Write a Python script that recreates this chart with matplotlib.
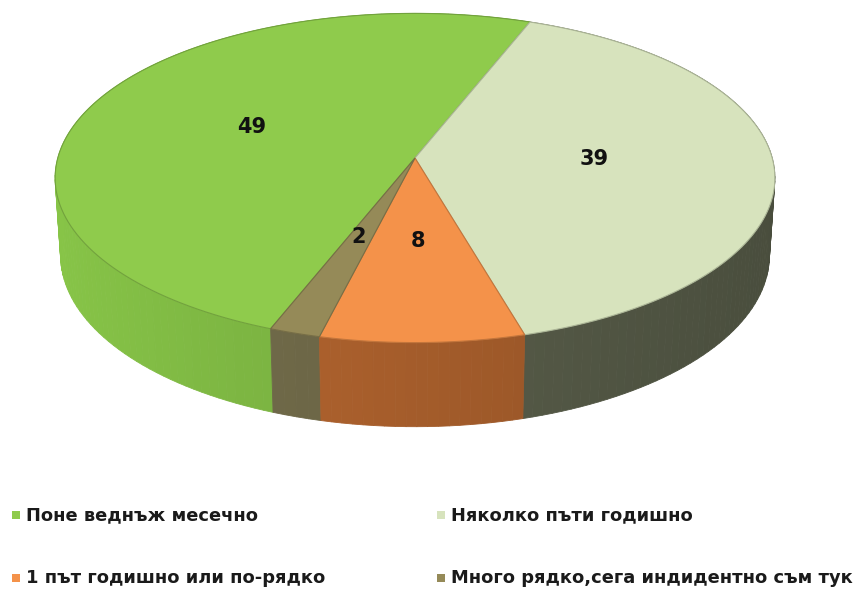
import numpy as np
import matplotlib.pyplot as plt
from matplotlib.patches import Polygon, Rectangle
import matplotlib.colors as mcolors

labels = ['Поне веднъж месечно', 'Няколко пъти годишно',
          '1 път годишно или по-рядко', 'Много рядко,сега индидентно съм тук']
values = [49, 39, 8, 2]
top_colors = ['#8fcb4c', '#d7e3bd', '#f4924a', '#958a58']
side_colors = ['#79b040', '#595e4a', '#a95f2c', '#6c6646']

# 3d pie view (perspective)
start = 201.0      # degrees, clockwise from the back
elev = np.radians(27)
dist = 7.34
focal = 2622
thick = 0.245
cx, cy = 415, 158


def project(x, y, z):
    d = dist + y * np.cos(elev) - z * np.sin(elev)
    sx = x * focal / d
    sy = (y * np.sin(elev) + z * np.cos(elev)) * focal / d
    return cx + sx, cy - sy


def rim_point(phi, z):
    return project(np.sin(phi), np.cos(phi), z)


fig = plt.figure(figsize=(8.59, 5.93), dpi=100)
ax = fig.add_axes([0, 0, 1, 1])
ax.set_xlim(0, 859)
ax.set_ylim(593, 0)
ax.axis('off')

total = sum(values)
bounds = np.radians(start + 360 * np.concatenate([[0], np.cumsum(values)]) / total)

# side wall, drawn as small shaded quads from back to front
quads = []
for i in range(len(values)):
    a0, a1 = bounds[i], bounds[i + 1]
    n = max(int(np.degrees(a1 - a0) / 1.5), 2)
    ph = np.linspace(a0, a1, n + 1)
    for p0, p1 in zip(ph[:-1], ph[1:]):
        pm = (p0 + p1) / 2
        pts = [rim_point(p0, 0), rim_point(p1, 0), rim_point(p1, -thick), rim_point(p0, -thick)]
        shade = 1.12 - 0.3 * (np.sin(pm) + 1) / 2
        base = np.array(mcolors.to_rgb(side_colors[i]))
        col = np.clip(base * shade, 0, 1)
        quads.append((np.cos(pm), pts, col))
quads.sort(key=lambda q: -q[0])
for _, pts, col in quads:
    ax.add_patch(Polygon(pts, closed=True, facecolor=col, edgecolor=col, lw=0.6))

# top faces
for i in range(len(values)):
    ph = np.linspace(bounds[i], bounds[i + 1], 120)
    pts = [project(0, 0, 0)] + [rim_point(p, 0) for p in ph]
    edge = np.array(mcolors.to_rgb(top_colors[i])) * 0.8
    ax.add_patch(Polygon(pts, closed=True, facecolor=top_colors[i], edgecolor=edge, lw=0.8))

# data labels
for i, v in enumerate(values):
    mid = (bounds[i] + bounds[i + 1]) / 2
    x, y = project(0.5 * np.sin(mid), 0.5 * np.cos(mid), 0)
    ax.text(x, y - 3, str(v), ha='center', va='center', fontsize=15,
            fontweight='bold', color='#111111')

# legend
leg_pos = [(12, 515), (437, 515), (12, 578), (437, 578)]
for (lx, ly), lab, col in zip(leg_pos, labels, top_colors):
    ax.add_patch(Rectangle((lx, ly - 4), 8, 8, facecolor=col, edgecolor='none'))
    ax.text(lx + 14, ly, lab, ha='left', va='center', fontsize=12.9,
            fontweight='bold', color='#1a1a1a')

fig.savefig('out.png', dpi=100)
